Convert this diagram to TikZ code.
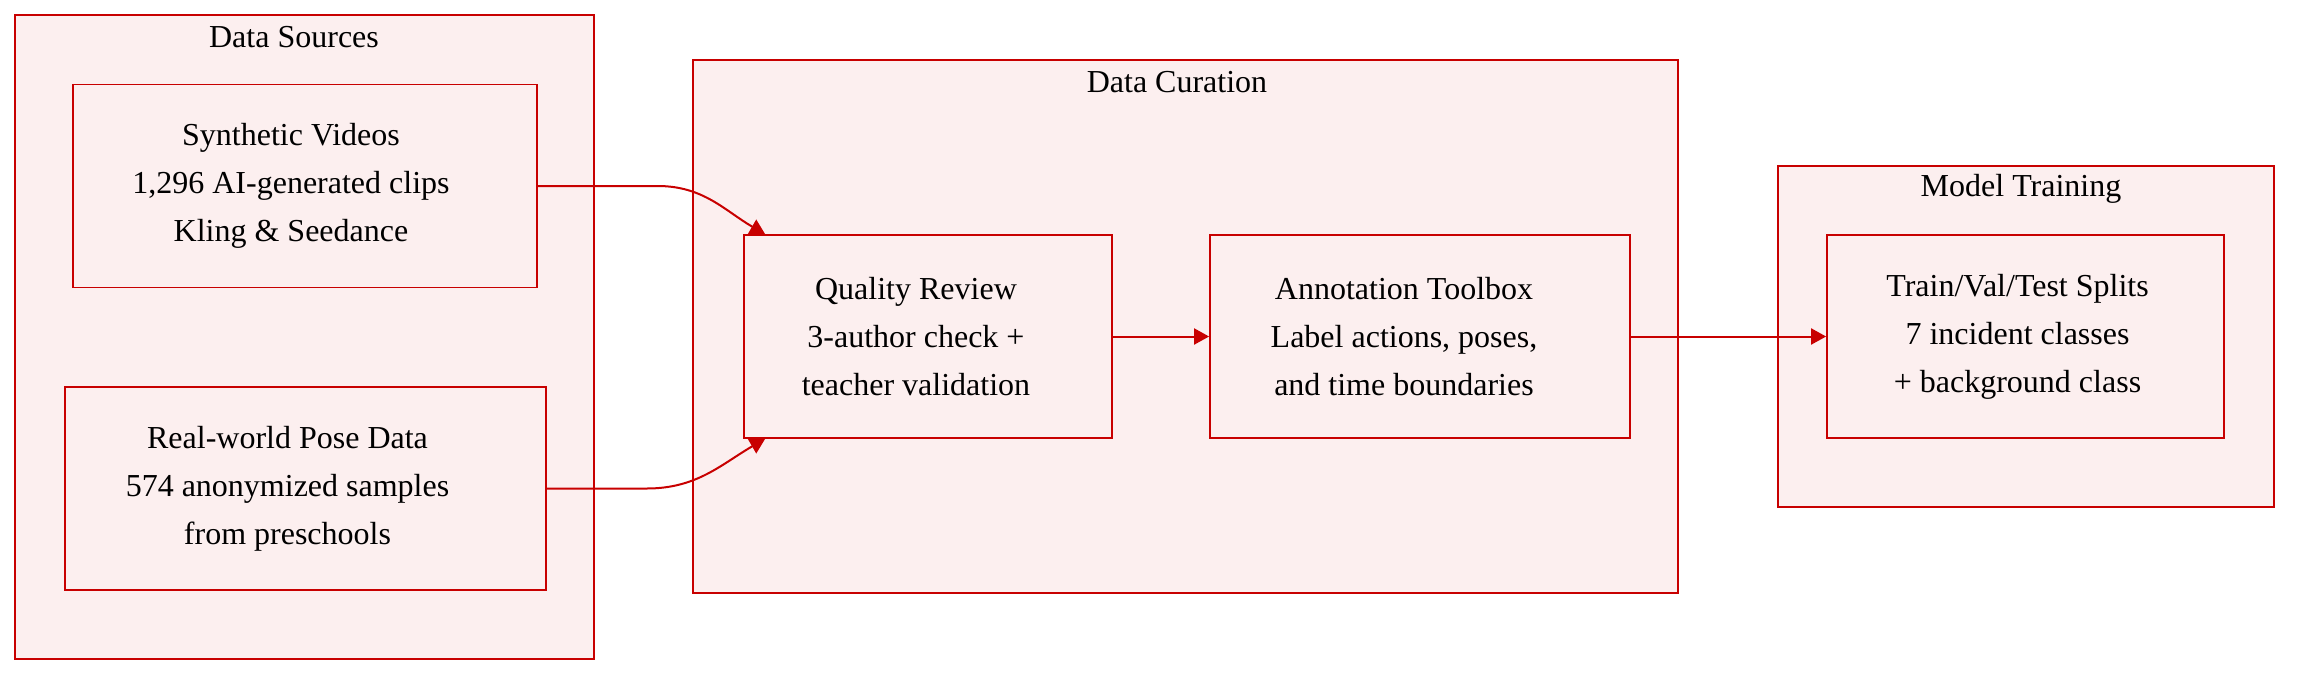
\documentclass[tikz,border=0pt]{standalone}
\usepackage{fontspec}
\setmainfont{Liberation Serif}
\usetikzlibrary{arrows.meta}
\definecolor{boxred}{HTML}{C80000}
\definecolor{boxfill}{HTML}{FCEFEF}
\begin{document}
\begin{tikzpicture}[x=0.5pt, y=-0.5pt,
	cluster/.style={draw=boxred, fill=boxfill, line width=0.9pt, minimum width=#1},
	stage/.style={draw=boxred, fill=boxfill, line width=0.9pt, minimum height=101.5pt, minimum width=#1},
	label/.style={align=center, inner sep=0pt},
	edge/.style={draw=boxred, line width=1pt, -{Triangle[length=7.5pt, width=8pt]}},
	every node/.style={font=\fontsize{16}{24}\selectfont}]
	\useasboundingbox (0,0) rectangle (2306,680);

	% the three groups
	\node[cluster=289.5pt, minimum height=322pt] (ds) at (304.5, 337) {};
	\node[cluster=492.5pt, minimum height=266.5pt] (dc) at (1185.5, 326.5) {};
	\node[cluster=248pt, minimum height=170.5pt] (mt) at (2026, 336.5) {};

	\node[label] (dsT) at (294, 37) {Data Sources};
	\node[label] (dcT) at (1177, 82) {Data Curation};
	\node[label] (mtT) at (2021, 189) {Model Training};

	% stages
	\node[stage=231.75pt] (syn) at (305, 186) {};
	\node[stage=240.5pt] (real) at (305.5, 488.5) {};
	\node[stage=184pt] (qr) at (928, 336.5) {};
	\node[stage=210pt] (ann) at (1420, 336.5) {};
	\node[stage=198.5pt] (split) at (2025.5, 336.5) {};

	\node[label, xshift=-7pt] (synT) at (syn) {Synthetic Videos\\1,296 AI-generated clips\\Kling \& Seedance};
	\node[label, xshift=-9pt] (realT) at (real) {Real-world Pose Data\\574 anonymized samples\\from preschools};
	\node[label, xshift=-6pt] (qrT) at (qr) {Quality Review\\3-author check +\\teacher validation};
	\node[label, xshift=-8pt] (annT) at (ann) {Annotation Toolbox\\Label actions, poses,\\and time boundaries};
	\node[label, xshift=-4pt] (splitT) at (split) {Train/Val/Test Splits\\7 incident classes\\+ background class};

	% connectors
	\draw[edge] (syn.east) -- ++(120,0) to[out=0, in=150] ([xshift=11pt]qr.north west);
	\draw[edge] (real.east) -- ++(100,0) to[out=0, in=210] ([xshift=11pt]qr.south west);
	\draw[edge] (qr) -- (ann);
	\draw[edge] (ann) -- (split);
\end{tikzpicture}
\end{document}
